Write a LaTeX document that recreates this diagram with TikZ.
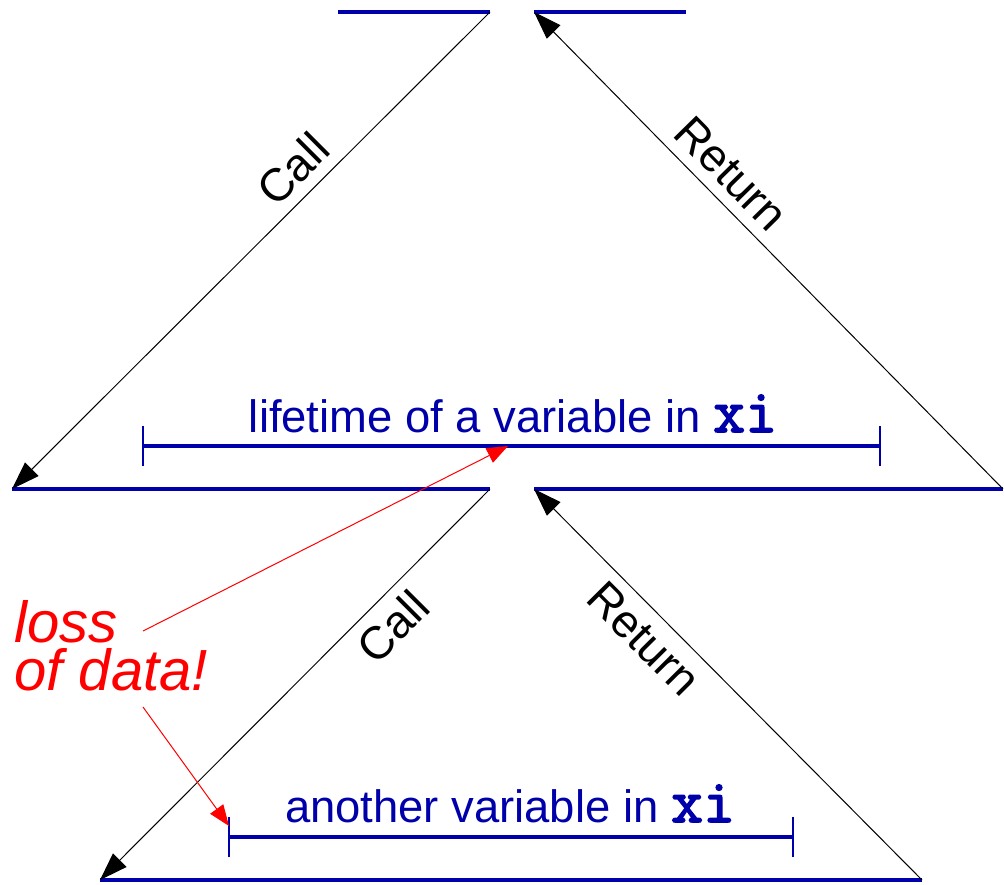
\documentclass[tikz,border=0pt]{standalone}
\usepackage{fontspec}
\setmainfont{Liberation Sans}
\newfontfamily\xifont[FakeBold=2.5]{Latin Modern Mono}
\usetikzlibrary{arrows.meta}
\definecolor{vblue}{RGB}{0,0,170}
\newcommand{\codexi}{{\fontsize{31}{31}\selectfont\xifont xi}}
\begin{document}
\begin{tikzpicture}[x=0.5pt,y=-0.5pt,
  frame/.style={vblue,line width=2pt},
  life/.style={vblue,line width=2pt},
  tickmark/.style={vblue,line width=0.7pt},
  flow/.style={black,line width=0.5pt,-{Triangle[length=14pt,width=9.5pt]}},
  note/.style={red,line width=0.5pt,-{Triangle[length=10.5pt,width=8pt]}},
  lbl/.style={font=\fontsize{23}{27}\selectfont,inner sep=5.5pt},
  vtext/.style={vblue,font=\fontsize{22.7}{27}\selectfont,inner sep=0pt},
  redtxt/.style={red,font=\fontsize{29}{24}\selectfont\itshape,inner sep=0pt},
  ]
\useasboundingbox (0,0) rectangle (1004,884);
% frame coordinates
\coordinate (t1) at (338,12); \coordinate (t2) at (490,12);
\coordinate (t3) at (534,12); \coordinate (t4) at (686,12);
\coordinate (m1) at (12,489); \coordinate (m2) at (490,489);
\coordinate (m3) at (534,489); \coordinate (m4) at (1003,489);
\coordinate (b1) at (100,880); \coordinate (b4) at (922,880);
% lifetime bars
\coordinate (lt1) at (143,446); \coordinate (lt2) at (880,446);
\coordinate (av1) at (229,837); \coordinate (av2) at (793,837);
% frames
\draw[frame] (t1) -- (t2);
\draw[frame] (t3) -- (t4);
\draw[frame] (m1) -- (m2);
\draw[frame] (m3) -- (m4);
\draw[frame] (b1) -- (b4);
% bars
\draw[life] (lt1) -- (lt2);
\draw[tickmark] ([yshift=-10]lt1) -- ([yshift=10]lt1);
\draw[tickmark] ([yshift=-10]lt2) -- ([yshift=10]lt2);
\draw[life] (av1) -- (av2);
\draw[tickmark] ([yshift=-10]av1) -- ([yshift=10]av1);
\draw[tickmark] ([yshift=-10]av2) -- ([yshift=10]av2);
% bar texts
\node[vtext,anchor=base] (lifetxt) at (513,432) {lifetime of a variable in \codexi};
\node[vtext,anchor=base] (anotxt) at (510,822) {another variable in \codexi};
% calls and returns
\draw[flow] (t2) -- node[lbl,sloped,pos=0.371,anchor=south] (call1) {Call} (m1);
\draw[flow] (m4) -- node[lbl,sloped,pos=0.621,anchor=south] (ret1) {Return} (t3);
\draw[flow] (m2) -- node[lbl,sloped,pos=0.301,anchor=north] (call2) {Call} (b1);
\draw[flow] (b4) -- node[lbl,sloped,pos=0.666,anchor=north] (ret2) {Return} (m3);
% loss of data
\node[redtxt,anchor=base west] (loss1) at (14,642) {loss};
\node[redtxt,anchor=base west] (loss2) at (14,690) {of data!};
\coordinate (n1) at (143,631); \coordinate (n2) at (143,707);
\coordinate (hit1) at (508,446); \coordinate (hit2) at (229,826);
\draw[note] (n1) -- (hit1);
\draw[note] (n2) -- (hit2);
\end{tikzpicture}
\end{document}
